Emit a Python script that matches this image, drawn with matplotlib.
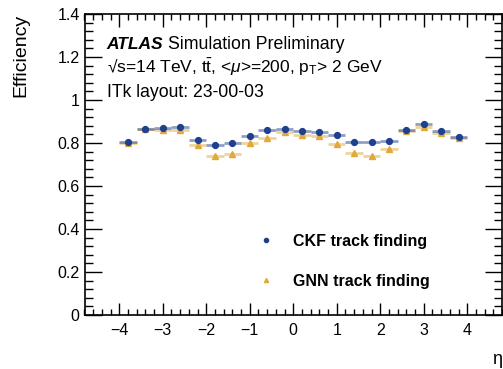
import numpy as np
import matplotlib.pyplot as plt
from matplotlib.ticker import MultipleLocator

plt.rcParams['font.family'] = ['Liberation Sans', 'DejaVu Sans']
plt.rcParams['mathtext.fontset'] = 'custom'
plt.rcParams['mathtext.rm'] = 'Liberation Sans'
plt.rcParams['mathtext.it'] = 'Liberation Sans:italic'

# eta bins: 20 bins of width 0.4 between -4 and 4
eta_edges = np.linspace(-4.0, 4.0, 21)
eta_centers = 0.5 * (eta_edges[:-1] + eta_edges[1:])

ckf_eff = [0.803, 0.865, 0.871, 0.876, 0.814, 0.792, 0.801, 0.834, 0.859, 0.864,
           0.854, 0.853, 0.836, 0.803, 0.803, 0.808, 0.859, 0.890, 0.854, 0.826]
gnn_eff = [0.798, 0.865, 0.862, 0.859, 0.789, 0.741, 0.749, 0.798, 0.825, 0.851,
           0.839, 0.834, 0.795, 0.755, 0.741, 0.774, 0.854, 0.874, 0.845, 0.823]

ckf_color = '#1f3f8f'
gnn_color = '#e0a93a'

fig = plt.figure(figsize=(5.03, 3.69), dpi=100)
ax = fig.add_axes([84.5 / 503, 1 - 315 / 369, (502 - 84.5) / 503, (315 - 14) / 369])

xerr = 0.2
ax.errorbar(eta_centers, gnn_eff, xerr=xerr, yerr=0.004, fmt='none',
            ecolor=gnn_color, elinewidth=2.0, alpha=0.5)
ax.errorbar(eta_centers, ckf_eff, xerr=xerr, yerr=0.004, fmt='none',
            ecolor=ckf_color, elinewidth=2.0, alpha=0.5)
ax.plot(eta_centers, gnn_eff, '^', color=gnn_color, markersize=4.5, linestyle='none')
ax.plot(eta_centers, ckf_eff, 'o', color=ckf_color, markersize=4.2, linestyle='none')

ax.set_xlim(-4.8, 4.8)
ax.set_ylim(0, 1.4)
ax.xaxis.set_minor_locator(MultipleLocator(0.2))
ax.yaxis.set_minor_locator(MultipleLocator(0.04))
ax.set_yticks([0, 0.2, 0.4, 0.6, 0.8, 1.0, 1.2, 1.4])
ax.set_yticklabels(['0', '0.2', '0.4', '0.6', '0.8', '1', '1.2', '1.4'])
ax.set_xticks([-4, -3, -2, -1, 0, 1, 2, 3, 4])
ax.set_xticklabels(['\u22124', '\u22123', '\u22122', '\u22121', '0', '1', '2', '3', '4'])
ax.tick_params(which='both', direction='in', top=True, right=True, labelsize=11.5)
ax.tick_params(which='major', length=9, width=1)
ax.tick_params(which='minor', length=4.5, width=1)
ax.tick_params(axis='y', which='major', length=12)
ax.tick_params(axis='y', which='minor', length=6)
ax.tick_params(axis='x', pad=6)
for s in ax.spines.values():
    s.set_linewidth(1.2)

ax.set_ylabel('Efficiency', fontsize=14, loc='top', labelpad=20)
ax.set_xlabel('\u03b7', fontsize=13, loc='right', labelpad=9)

ax.text(0.053, 0.884, 'ATLAS', transform=ax.transAxes, fontsize=12.5,
        fontweight='bold', fontstyle='italic', va='baseline')
ax.text(0.2, 0.884, 'Simulation Preliminary', transform=ax.transAxes,
        fontsize=12.8, va='baseline')
ax.text(0.053, 0.804, '\u221as=14 TeV, t$\\bar{\\mathrm{t}}$, <$\\mu$>=200, p$_\\mathrm{T}$> 2 GeV',
        transform=ax.transAxes, fontsize=12.5, va='baseline')
ax.text(0.053, 0.724, 'ITk layout: 23-00-03', transform=ax.transAxes,
        fontsize=12.7, va='baseline')

# legend
ax.plot([], [], 'o', color=ckf_color, markersize=3, label='CKF track finding')
ax.plot([], [], '^', color=gnn_color, markersize=3, label='GNN track finding')
handles, labels = ax.get_legend_handles_labels()
leg = ax.legend(handles[-2:], labels[-2:], loc='lower left', bbox_to_anchor=(0.38, 0.04),
                frameon=False, prop={'weight': 'bold', 'size': 11.5},
                labelspacing=1.55, handletextpad=1.2, handlelength=1.0)

fig.savefig('out.png', dpi=100)
